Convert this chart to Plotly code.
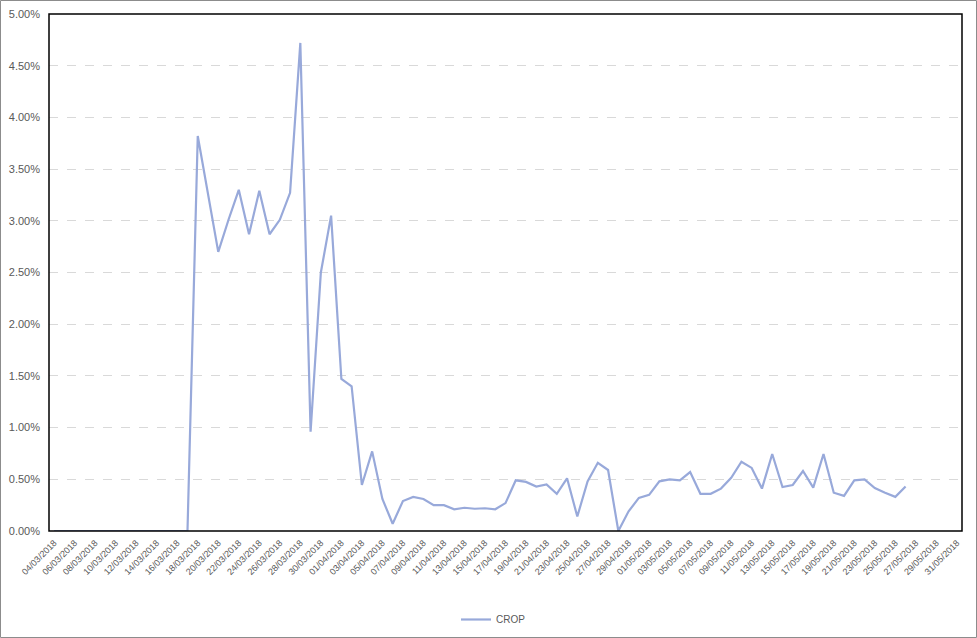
import datetime as dt
import plotly.graph_objects as go

start = dt.date(2018, 3, 4)
dates = [(start + dt.timedelta(days=i)).strftime("%d/%m/%Y") for i in range(89)]

# values in percent (fraction*100), None = no data
crop_pct = (
    [0.0] * 14 +  # 04/03 - 17/03
    [3.82, 3.27, 2.70, 3.01, 3.30, 2.87, 3.29, 2.87, 3.01, 3.27, 4.72,  # 18/03 - 28/03
     0.96, 2.50, 3.05,  # 29/03 - 31/03
     1.47, 1.40, 0.445, 0.77, 0.31, 0.07, 0.29, 0.33, 0.31, 0.25,  # 01/04 - 10/04
     0.25, 0.21, 0.225, 0.215, 0.22, 0.21, 0.27, 0.49, 0.475, 0.43,  # 11/04 - 20/04
     0.45, 0.36, 0.51, 0.14, 0.48, 0.66, 0.59, 0.0, 0.19, 0.32,  # 21/04 - 30/04
     0.35, 0.48, 0.50, 0.49, 0.57, 0.36, 0.36, 0.41, 0.515, 0.67,  # 01/05 - 10/05
     0.61, 0.41, 0.745, 0.425, 0.445, 0.58, 0.42, 0.745, 0.37, 0.34,  # 11/05 - 20/05
     0.49, 0.50, 0.415, 0.37, 0.33, 0.43]  # 21/05 - 26/05
)
crop_pct += [None] * (len(dates) - len(crop_pct))
crop = [v / 100 if v is not None else None for v in crop_pct]

tick_labels = dates[::2]
y_ticks = [i * 0.005 for i in range(11)]

fig = go.Figure()
fig.add_trace(go.Scatter(
    x=dates, y=crop, mode="lines", name="CROP",
    line=dict(color="#98A9DA", width=2.2),
    connectgaps=False,
))

W, H = 977, 638
ml, mr, mt, mb = 49, 15, 14, 107
pw, ph = W - ml - mr, H - mt - mb

def px_x(p):
    return (p - ml) / pw

def px_y(p):
    return (H - mb - p) / ph

fig.update_layout(
    width=W, height=H,
    margin=dict(l=ml, r=mr, t=mt, b=mb, pad=0, autoexpand=False),
    paper_bgcolor="white", plot_bgcolor="white",
    font=dict(family="Liberation Sans, Arial, sans-serif", size=10, color="#595959"),
    showlegend=True,
    legend=dict(orientation="h", x=px_x(456), xanchor="left", y=px_y(634), yanchor="bottom",
                font=dict(size=10, color="#595959"), itemwidth=30),
    xaxis=dict(
        type="category", categoryorder="array", categoryarray=dates,
        range=[-0.5, len(dates) - 0.5], automargin=False,
        tickmode="array", tickvals=tick_labels, ticktext=tick_labels,
        tickangle=-45, showgrid=False, zeroline=False, ticklabelstandoff=4,
        showline=False, ticks="", tickfont=dict(size=9, color="#595959"),
    ),
    yaxis=dict(
        range=[0, 0.05], tickvals=y_ticks, tickformat=".2%", automargin=False,
        showgrid=True, gridcolor="#D9D9D9", griddash="dash", gridwidth=1,
        zeroline=False, showline=False, ticks="", ticklabelstandoff=8,
        tickfont=dict(size=11, color="#595959"),
    ),
    shapes=[
        dict(type="rect", xref="paper", yref="paper", x0=0, x1=1, y0=0, y1=1,
             line=dict(color="black", width=1.5), fillcolor="rgba(0,0,0,0)", layer="above"),
        dict(type="rect", xref="paper", yref="paper",
             x0=px_x(0.5), x1=px_x(976.5), y0=px_y(637.5), y1=px_y(0.5),
             line=dict(color="#8C8C8C", width=1), fillcolor="rgba(0,0,0,0)"),
    ],
)

fig.write_html("out.html", config={"displayModeBar": False},
               post_script="document.body.style.margin='0';")
